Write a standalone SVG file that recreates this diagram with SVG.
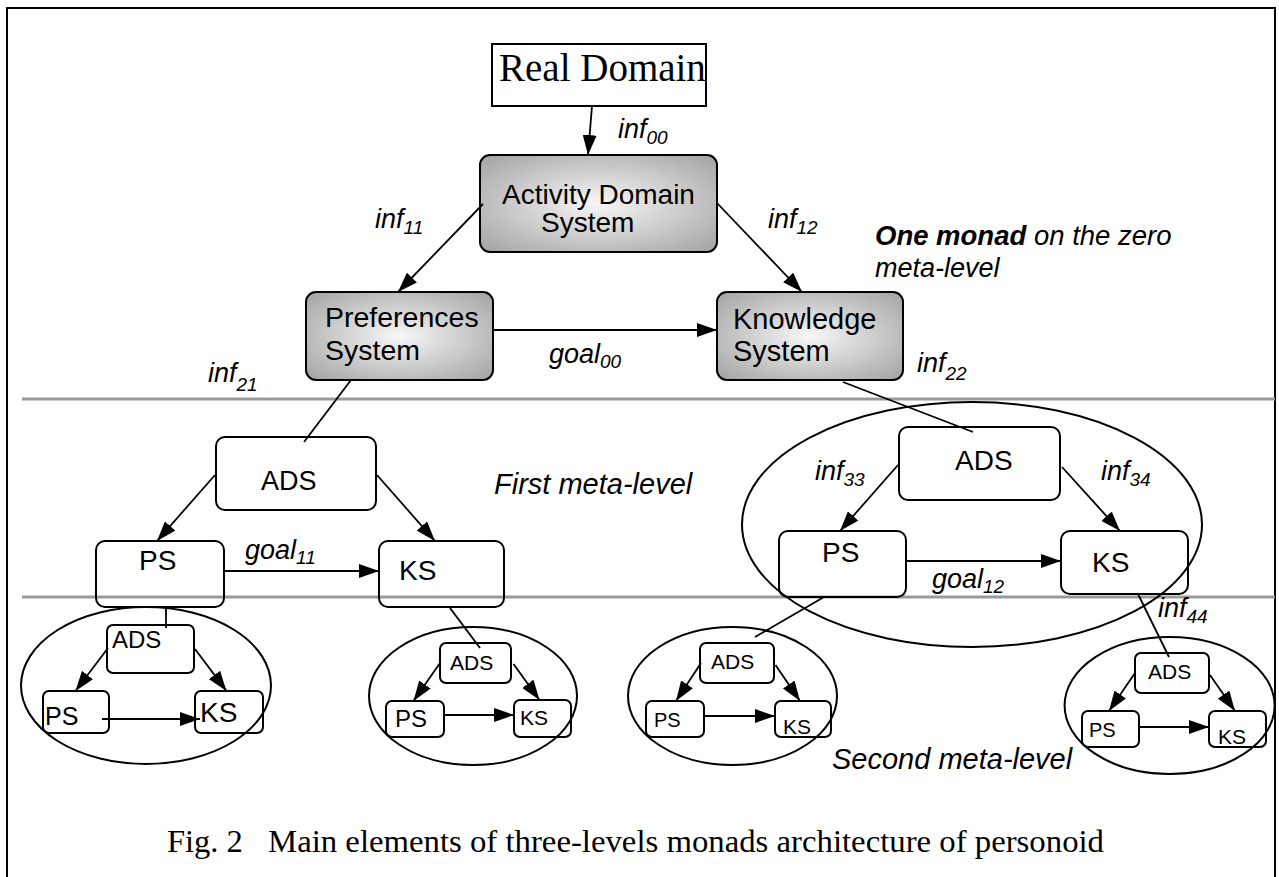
<svg xmlns="http://www.w3.org/2000/svg" width="1279" height="877" viewBox="0 0 1279 877">
<style>
  .sans{font-family:"Liberation Sans",Arial,sans-serif;fill:#000}
  .serif{font-family:"Liberation Serif","Times New Roman",serif;fill:#000}
  .lbl{font-family:"Liberation Sans",Arial,sans-serif;font-style:italic;font-size:27px;fill:#000}
  .note{font-family:"Liberation Sans",Arial,sans-serif;font-style:italic;fill:#000}
  .sub{font-size:19px}
  .box{fill:none;stroke:#000;stroke-width:2}
  .gbox{fill:url(#shade);stroke:#000;stroke-width:2}
  .ring{fill:none;stroke:#000;stroke-width:2}
  .arr{stroke:#000;stroke-width:1.8;fill:none;marker-end:url(#head)}
  .link{stroke:#000;stroke-width:1.8;fill:none}
  .level{stroke:#9a9a9a;stroke-width:3}
  .frame{fill:none;stroke:#000;stroke-width:2}
</style>
<defs>
  <radialGradient id="shade" cx="50%" cy="50%" r="65%">
    <stop offset="0" stop-color="#f7f7f7"/>
    <stop offset="1" stop-color="#a8a8a8"/>
  </radialGradient>
  <marker id="head" markerUnits="userSpaceOnUse" markerWidth="20" markerHeight="14" refX="20" refY="7" orient="auto">
    <path d="M0,0 L20,7 L0,14 z" fill="#000"/>
  </marker>
</defs>

<rect width="1279" height="877" fill="#fff"/>
<path class="frame" d="M7,878 V8 H1275 V878"/>

<!-- meta-level separators -->
<g id="levels">
  <line class="level" x1="22" y1="399" x2="1275" y2="399"/>
  <line class="level" x1="22" y1="597" x2="1275" y2="597"/>
</g>

<!-- zero meta-level -->
<g id="real-domain">
  <rect class="box" x="492" y="44" width="214" height="62"/>
  <text class="serif" x="499" y="81" font-size="39">Real Domain</text>
</g>
<g id="activity-domain-system">
  <rect class="gbox" x="480" y="155" width="237" height="97" rx="10"/>
  <text class="sans" x="502" y="204" font-size="28">Activity Domain</text>
  <text class="sans" x="541" y="232" font-size="28">System</text>
</g>
<g id="preferences-system">
  <rect class="gbox" x="306" y="292" width="187" height="88" rx="10"/>
  <text class="sans" x="325" y="327" font-size="28.5">Preferences</text>
  <text class="sans" x="325" y="360" font-size="28.5">System</text>
</g>
<g id="knowledge-system">
  <rect class="gbox" x="717" y="292" width="186" height="88" rx="10"/>
  <text class="sans" x="733" y="329" font-size="29">Knowledge</text>
  <text class="sans" x="733" y="361" font-size="29">System</text>
</g>

<!-- first meta-level, left monad -->
<g id="ads-1l">
  <rect class="box" x="216" y="437" width="160" height="73" rx="9"/>
  <text class="sans" x="261" y="490" font-size="27">ADS</text>
</g>
<g id="ps-1l">
  <rect class="box" x="96" y="541" width="128" height="66" rx="9"/>
  <text class="sans" x="139" y="570" font-size="28">PS</text>
</g>
<g id="ks-1l">
  <rect class="box" x="379" y="541" width="125" height="66" rx="9"/>
  <text class="sans" x="399" y="580" font-size="28">KS</text>
</g>

<!-- first meta-level, right monad -->
<g id="monad-1r">
  <ellipse class="ring" cx="972" cy="524.5" rx="230" ry="122.5"/>
</g>
<g id="ads-1r">
  <rect class="box" x="899" y="427" width="161" height="73" rx="9"/>
  <text class="sans" x="955" y="470" font-size="28">ADS</text>
</g>
<g id="ps-1r">
  <rect class="box" x="779" y="531" width="127" height="66" rx="9"/>
  <text class="sans" x="822" y="562" font-size="28">PS</text>
</g>
<g id="ks-1r">
  <rect class="box" x="1061" y="531" width="127" height="63" rx="9"/>
  <text class="sans" x="1092" y="572" font-size="28">KS</text>
</g>

<!-- second meta-level monads -->
<g id="monad-2a">
  <ellipse class="ring" cx="146" cy="685.5" rx="125" ry="78.5"/>
  <rect class="box" x="107" y="625" width="87" height="48" rx="6"/>
  <text class="sans" x="112" y="648" font-size="24">ADS</text>
  <rect class="box" x="43" y="691" width="66" height="42" rx="6"/>
  <text class="sans" x="45" y="725" font-size="25">PS</text>
  <rect class="box" x="195" y="691" width="68" height="42" rx="6"/>
  <text class="sans" x="200" y="722" font-size="28">KS</text>
</g>
<g id="monad-2b">
  <ellipse class="ring" cx="473" cy="696" rx="104" ry="69"/>
  <rect class="box" x="440" y="643" width="71" height="40" rx="6"/>
  <text class="sans" x="450" y="670" font-size="21">ADS</text>
  <rect class="box" x="386" y="701" width="58" height="36" rx="6"/>
  <text class="sans" x="395" y="727" font-size="24">PS</text>
  <rect class="box" x="514" y="700" width="57" height="37" rx="6"/>
  <text class="sans" x="520" y="725" font-size="21">KS</text>
</g>
<g id="monad-2c">
  <ellipse class="ring" cx="732.5" cy="696" rx="104.5" ry="69"/>
  <rect class="box" x="700" y="643" width="74" height="40" rx="6"/>
  <text class="sans" x="711" y="669" font-size="21">ADS</text>
  <rect class="box" x="646" y="701" width="58" height="36" rx="6"/>
  <text class="sans" x="654" y="727" font-size="20">PS</text>
  <rect class="box" x="775" y="701" width="56" height="36" rx="6"/>
  <text class="sans" x="783" y="734" font-size="21">KS</text>
</g>
<g id="monad-2d">
  <ellipse class="ring" cx="1169.6" cy="705.5" rx="105" ry="68.5"/>
  <rect class="box" x="1135" y="653" width="74" height="40" rx="6"/>
  <text class="sans" x="1148" y="679" font-size="21">ADS</text>
  <rect class="box" x="1082" y="711" width="57" height="36" rx="6"/>
  <text class="sans" x="1089" y="737" font-size="20">PS</text>
  <rect class="box" x="1209" y="711" width="57" height="36" rx="6"/>
  <text class="sans" x="1218" y="744" font-size="21">KS</text>
</g>

<!-- connectors -->
<g id="connectors">
  <line class="arr" x1="592" y1="106" x2="588" y2="155"/>
  <line class="arr" x1="483" y1="204" x2="398" y2="292"/>
  <line class="arr" x1="717" y1="203" x2="802" y2="292"/>
  <line class="arr" x1="493" y1="330" x2="717" y2="330"/>
  <line class="link" x1="351" y1="380" x2="304" y2="442"/>
  <line class="link" x1="843" y1="382" x2="973" y2="432"/>

  <line class="arr" x1="215" y1="475" x2="157" y2="541"/>
  <line class="arr" x1="377" y1="475" x2="435" y2="541"/>
  <line class="arr" x1="224" y1="571" x2="379" y2="571"/>
  <line class="link" x1="166" y1="608" x2="166" y2="628"/>
  <line class="link" x1="450" y1="608" x2="480" y2="648"/>

  <line class="arr" x1="898" y1="465" x2="840" y2="531"/>
  <line class="arr" x1="1062" y1="467" x2="1120" y2="531"/>
  <line class="arr" x1="906" y1="561" x2="1061" y2="561"/>
  <line class="link" x1="824" y1="597" x2="755" y2="637"/>
  <line class="link" x1="1138" y1="594" x2="1169" y2="657"/>

  <line class="arr" x1="108" y1="648" x2="75.5" y2="691"/>
  <line class="arr" x1="195" y1="649" x2="226.5" y2="691"/>
  <line class="arr" x1="102" y1="719" x2="200" y2="719"/>

  <line class="arr" x1="440" y1="663" x2="413.5" y2="701"/>
  <line class="arr" x1="513.5" y1="664" x2="539.5" y2="700"/>
  <line class="arr" x1="445" y1="715" x2="514" y2="715"/>

  <line class="arr" x1="701" y1="663" x2="676" y2="701"/>
  <line class="arr" x1="775.5" y1="665" x2="800" y2="701"/>
  <line class="arr" x1="705" y1="716" x2="775" y2="716"/>

  <line class="arr" x1="1135" y1="673" x2="1109" y2="711"/>
  <line class="arr" x1="1210" y1="675" x2="1235" y2="711"/>
  <line class="arr" x1="1140" y1="727" x2="1209" y2="727"/>
</g>

<!-- connector labels -->
<g id="labels">
  <text class="lbl" x="618" y="138">inf<tspan class="sub" dy="6">00</tspan></text>
  <text class="lbl" x="375" y="228">inf<tspan class="sub" dy="6">11</tspan></text>
  <text class="lbl" x="768" y="228">inf<tspan class="sub" dy="6">12</tspan></text>
  <text class="lbl" x="549" y="363">goal<tspan class="sub" dy="5">00</tspan></text>
  <text class="lbl" x="208" y="382">inf<tspan class="sub" dy="9">21</tspan></text>
  <text class="lbl" x="917" y="372">inf<tspan class="sub" dy="8">22</tspan></text>
  <text class="lbl" x="245" y="559">goal<tspan class="sub" dy="5">11</tspan></text>
  <text class="lbl" x="815" y="480">inf<tspan class="sub" dy="6">33</tspan></text>
  <text class="lbl" x="1101" y="480">inf<tspan class="sub" dy="6">34</tspan></text>
  <text class="lbl" x="932" y="588">goal<tspan class="sub" dy="5">12</tspan></text>
  <text class="lbl" x="1158" y="617">inf<tspan class="sub" dy="6">44</tspan></text>
</g>

<!-- level captions -->
<g id="level-notes">
  <text class="note" x="875" y="245" font-size="27.5"><tspan font-weight="bold">One monad</tspan> on the zero</text>
  <text class="note" x="875" y="277" font-size="27">meta-level</text>
  <text class="note" x="494" y="494" font-size="29">First meta-level</text>
  <text class="note" x="832" y="769" font-size="29">Second meta-level</text>
</g>

<g id="caption">
  <text class="serif" x="167" y="852" font-size="32.5">Fig. 2</text>
  <text class="serif" x="268" y="852" font-size="32.5" textLength="836" lengthAdjust="spacingAndGlyphs">Main elements of three-levels monads architecture of personoid</text>
</g>
</svg>
